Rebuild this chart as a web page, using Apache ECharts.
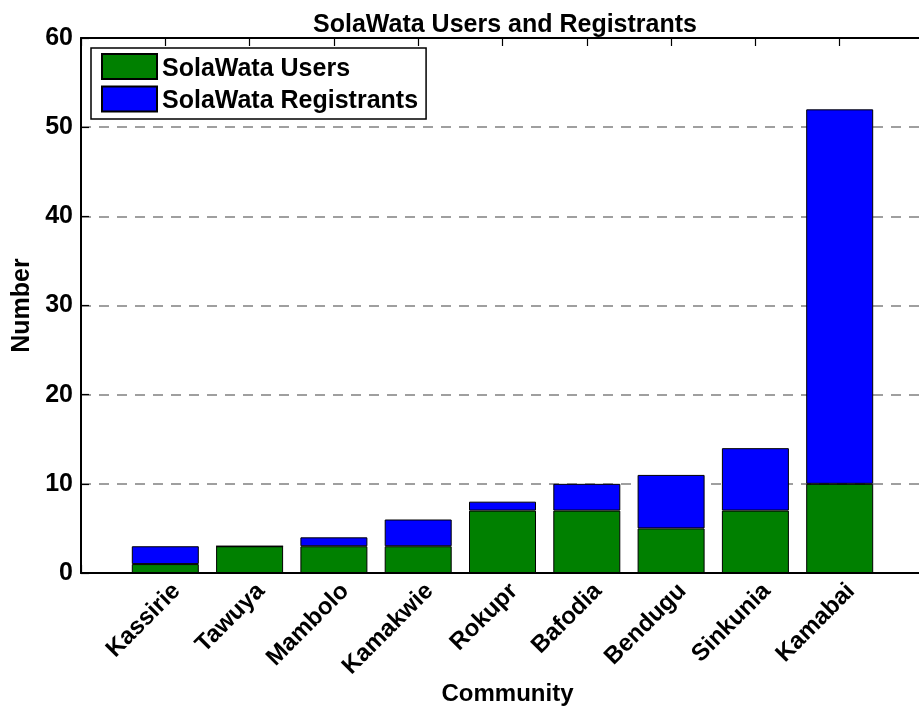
<!DOCTYPE html>
<html>
<head>
<meta charset="utf-8">
<script src="https://cdn.jsdelivr.net/npm/echarts@6/dist/echarts.min.js"></script>
<style>
html,body{margin:0;padding:0;background:#fff;}
#chart{width:919px;height:709px;}
</style>
</head>
<body>
<div id="chart"></div>
<script>
const communities = ['Kassirie','Tawuya','Mambolo','Kamakwie','Rokupr','Bafodia','Bendugu','Sinkunia','Kamabai'];
const users = [1,3,3,3,7,7,5,7,10];
const registrants = [2,0,1,3,1,3,6,7,42];
const yTicks = [0,10,20,30,40,50,60];

// pad categories so the axis runs from 0 to 10 with bars at 1..9
const cats = [''].concat(communities, ['']);
const pad = v => ['-'].concat(v, ['-']);

const FONT = 'Liberation Sans, Arial, sans-serif';
const chart = echarts.init(document.getElementById('chart'), null, {renderer:'canvas'});
chart.setOption({
  animation:false,
  backgroundColor:'#fff',
  title:{
    text:'SolaWata Users and Registrants',
    left:500, top:8, textAlign:'center',
    textStyle:{fontFamily:FONT,fontSize:25,fontWeight:'bold',color:'#000'}
  },
  legend:{
    left:91, top:48, orient:'vertical', icon:'rect',
    padding:[5,8,5,10], itemGap:4, itemWidth:55, itemHeight:25,
    borderColor:'#000', borderWidth:1.5, backgroundColor:'#fff',
    formatter:name=>'{t|'+name+'}',
    textStyle:{fontFamily:FONT,fontSize:25,fontWeight:'bold',color:'#000',
      rich:{t:{fontFamily:FONT,fontSize:25,fontWeight:'bold',color:'#000',padding:[5,0,0,0]}}},
    data:['SolaWata Users','SolaWata Registrants']
  },
  grid:{left:81, top:38, width:843, height:535, containLabel:false, outerBoundsMode:'none'},
  xAxis:[{
    type:'category', data:cats, boundaryGap:false,
    name:'Community', nameLocation:'middle', nameGap:109, nameMoveOverlap:false,
    nameTextStyle:{fontFamily:FONT,fontSize:24,fontWeight:'bold',color:'#000',padding:[0,0,0,10]},
    axisLine:{lineStyle:{color:'#000',width:2}},
    axisTick:{inside:true,length:8,lineStyle:{color:'#000',width:1.2}},
    axisLabel:{rotate:45, interval:0, margin:6, verticalAlign:'top', padding:[2,-2,0,0],
      fontFamily:FONT,fontSize:24,fontWeight:'bold',color:'#000'},
    splitLine:{show:false}
  },{
    type:'category', data:cats, boundaryGap:false, position:'top',
    axisLine:{lineStyle:{color:'#000',width:2}},
    axisTick:{inside:true,length:8,lineStyle:{color:'#000',width:1.2}},
    axisLabel:{show:false}, splitLine:{show:false}
  }],
  yAxis:[{
    type:'value', min:0, max:60, interval:10,
    name:'Number', nameLocation:'middle', nameGap:46, nameRotate:90, nameMoveOverlap:false,
    nameTextStyle:{fontFamily:FONT,fontSize:25,fontWeight:'bold',color:'#000'},
    axisLine:{show:true,lineStyle:{color:'#000',width:2}},
    axisTick:{show:true,inside:true,length:8,lineStyle:{color:'#000',width:1.2}},
    axisLabel:{margin:8,fontFamily:FONT,fontSize:25,fontWeight:'bold',color:'#000',
      formatter:v=>yTicks.includes(v)?String(v):''},
    splitLine:{show:true,lineStyle:{color:'#808080',width:1.5,type:[10,8]}}
  }],
  series:[{
    name:'SolaWata Users', type:'bar', stack:'total', data:pad(users), barWidth:67,
    itemStyle:{color:'#008000',borderColor:'#000',borderWidth:1}
  },{
    name:'SolaWata Registrants', type:'bar', stack:'total', data:pad(registrants), barWidth:67,
    itemStyle:{color:'#0000ff',borderColor:'#000',borderWidth:1}
  }]
});
</script>
</body>
</html>
